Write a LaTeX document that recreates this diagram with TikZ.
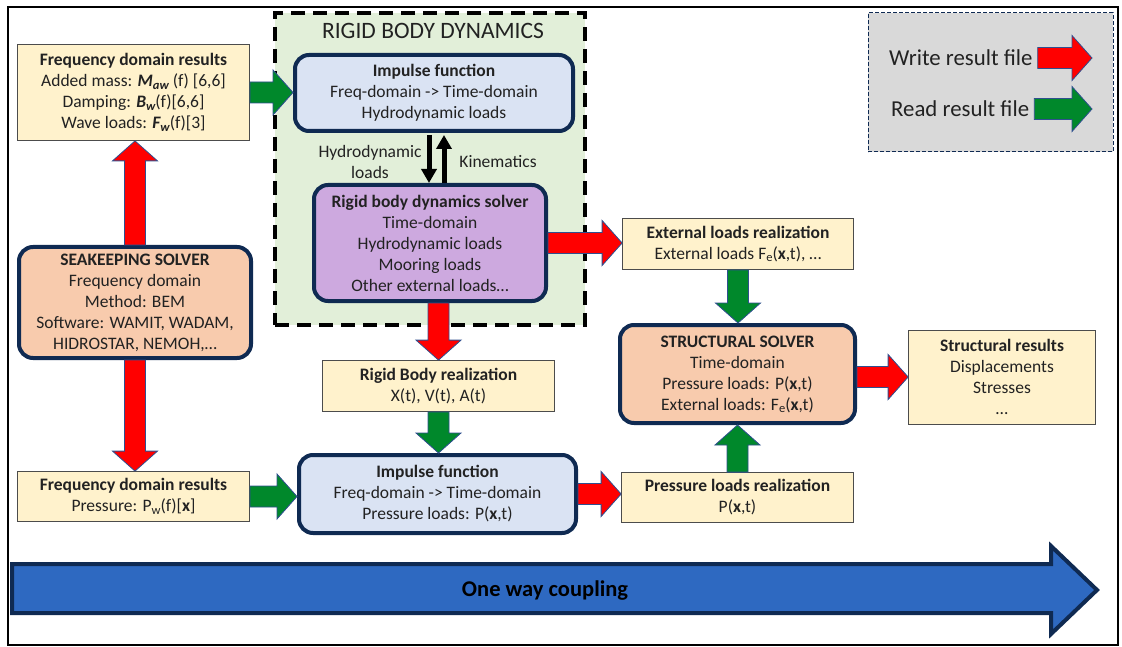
\documentclass[tikz,border=0pt]{standalone}
\usepackage{fontspec}
\setmainfont{Carlito}
\usetikzlibrary{arrows.meta,calc}
\definecolor{navy}{HTML}{0F2A52}
\definecolor{cream}{HTML}{FFF2CC}
\definecolor{peach}{HTML}{F8CBAD}
\definecolor{lblue}{HTML}{DAE3F3}
\definecolor{purp}{HTML}{CDA9DF}
\definecolor{lgreen}{HTML}{E2EFD9}
\definecolor{lgray}{HTML}{D9D9D9}
\definecolor{agreen}{HTML}{00882B}
\definecolor{ared}{HTML}{FF0000}
\definecolor{ablue}{HTML}{2E69C1}
\definecolor{abord}{HTML}{2F4F8F}
\definecolor{txt}{HTML}{222222}
\newcommand\fs{\fontsize{17.5}{21}\selectfont}
\newcommand\sbs[1]{\raisebox{-0.25ex}{\fontsize{12.5}{12}\selectfont #1}}
\newcommand\ArSw{10.5pt}
\newcommand\ArHw{22.5pt}
\newcommand\ArHl{20pt}
\newcommand\rArrow[3]{\draw[blockarrow,fill=#3] let \p1=(#1),\p2=(#2) in
  (\x1,\y1+\ArSw) -- (\x2-\ArHl,\y1+\ArSw) -- (\x2-\ArHl,\y1+\ArHw) -- (\x2,\y1) --
  (\x2-\ArHl,\y1-\ArHw) -- (\x2-\ArHl,\y1-\ArSw) -- (\x1,\y1-\ArSw) -- cycle;}
\newcommand\dArrow[3]{\draw[blockarrow,fill=#3] let \p1=(#1),\p2=(#2) in
  (\x1-\ArSw,\y1) -- (\x1-\ArSw,\y2+\ArHl) -- (\x1-\ArHw,\y2+\ArHl) -- (\x1,\y2) --
  (\x1+\ArHw,\y2+\ArHl) -- (\x1+\ArSw,\y2+\ArHl) -- (\x1+\ArSw,\y1) -- cycle;}
\newcommand\uArrow[3]{\draw[blockarrow,fill=#3] let \p1=(#1),\p2=(#2) in
  (\x1-\ArSw,\y1) -- (\x1-\ArSw,\y2-\ArHl) -- (\x1-\ArHw,\y2-\ArHl) -- (\x1,\y2) --
  (\x1+\ArHw,\y2-\ArHl) -- (\x1+\ArSw,\y2-\ArHl) -- (\x1+\ArSw,\y1) -- cycle;}
\tikzset{
  blockarrow/.style={draw=abord, line width=0.8pt, line join=miter},
  resbox/.style={draw=black!70, line width=0.8pt, fill=cream, align=center, inner sep=0pt, font=\fs, text=txt},
  solver/.style={draw=navy, line width=4pt, rounded corners=14pt, align=center, inner sep=0pt, font=\fs, text=txt},
  lbl/.style={align=center, inner sep=0pt, font=\fs, text=txt},
  blk/.style={line width=5pt, -{Triangle[width=15pt,length=14pt]}},
}
\begin{document}
\begin{tikzpicture}[x=1pt,y=-1pt]
\useasboundingbox (0,0) rectangle (1122,647);
\draw[line width=2pt] (8,7) rectangle (1118,645);

% rigid body dynamics container
\node[draw=black, fill=lgreen, line width=3.5pt, dash pattern=on 14pt off 8pt,
      minimum width=310pt, minimum height=312pt, inner sep=0pt] (rbd) at (430,169) {};
\node[lbl, font=\fontsize{23.5}{26}\selectfont] (rbdtitle) at (433,31) {RIGID BODY DYNAMICS};

% legend
\node[draw=navy, fill=lgray, line width=1pt, dash pattern=on 4pt off 2pt,
      minimum width=245pt, minimum height=139pt, inner sep=0pt] (legend) at (990.5,82.5) {};
\node[anchor=west, inner sep=5pt, text=txt, font=\fontsize{22.8}{24}\selectfont] (wtxt) at (884,58) {Write result file};
\node[anchor=west, inner sep=5pt, text=txt, font=\fontsize{22.8}{24}\selectfont] (rtxt) at (886,109) {Read result file};
\coordinate (wtip) at (1092,58);
\coordinate (rtip) at (1092,109);

% nodes
\node[resbox, minimum width=232pt, minimum height=96pt] (fdr1) at (133.5,92.5)
  {\textbf{Frequency domain results}\\
   Added mass: {\bfseries\itshape M\sbs{aw}} (f) [6,6]\\
   Damping: {\bfseries\itshape B\sbs{w}}(f)[6,6]\\
   Wave loads: {\bfseries\itshape F\sbs{w}}(f)[3]};
\node[solver, fill=lblue, minimum width=278pt, minimum height=76pt] (imp1) at (434,93)
  {\textbf{Impulse function}\\Freq-domain -> Time-domain\\Hydrodynamic loads};
\node[solver, fill=purp, minimum width=232pt, minimum height=116pt] (rbs) at (430,243)
  {\textbf{Rigid body dynamics solver}\\Time-domain\\Hydrodynamic loads\\Mooring loads\\Other external loads\dots};
\node[solver, fill=peach, minimum width=232pt, minimum height=111pt] (sk) at (135,302.5)
  {\textbf{SEAKEEPING SOLVER}\\Frequency domain\\Method: BEM\\Software: WAMIT, WADAM,\\HIDROSTAR, NEMOH,\dots};
\node[resbox, minimum width=232pt, minimum height=50pt] (fdr2) at (133.5,496.5)
  {\textbf{Frequency domain results}\\Pressure: P\sbs{w}(f)[\textbf{x}]};
\node[resbox, minimum width=232pt, minimum height=51pt] (rbr) at (438.5,386)
  {\textbf{Rigid Body realization}\\X(t), V(t), A(t)};
\node[solver, fill=lblue, minimum width=277pt, minimum height=78pt] (imp2) at (437.5,494)
  {\textbf{Impulse function}\\Freq-domain -> Time-domain\\Pressure loads: P(\textbf{x},t)};
\node[resbox, minimum width=232pt, minimum height=50pt] (plr) at (737.5,497.5)
  {\textbf{Pressure loads realization}\\P(\textbf{x},t)};
\node[resbox, minimum width=231pt, minimum height=51pt] (elr) at (738,244)
  {\textbf{External loads realization}\\External loads F\sbs{e}(\textbf{x},t), \dots};
\node[solver, fill=peach, minimum width=235pt, minimum height=98pt] (ss) at (737.5,374)
  {\textbf{STRUCTURAL SOLVER}\\Time-domain\\Pressure loads: P(\textbf{x},t)\\External loads: F\sbs{e}(\textbf{x},t)};
\node[resbox, minimum width=187pt, minimum height=94pt] (sr) at (1002,377)
  {\textbf{Structural results}\\Displacements\\Stresses\\\dots};

% black arrows between impulse function and solver
\draw[blk] ([xshift=-5pt,yshift=-2pt]imp1.south) -- ([xshift=-5pt]imp1.south |- rbs.north);
\draw[blk] ([xshift=10pt]imp1.south |- rbs.north) -- ([xshift=10pt,yshift=-2pt]imp1.south);
\node[lbl] (hlab) at (370,162) {Hydrodynamic\\loads};
\node[lbl] (klab) at (498,162) {Kinematics};

% block arrows
\rArrow{fdr1.east}{imp1.west}{agreen}
\uArrow{sk.north}{fdr1.south}{ared}
\dArrow{sk.south}{fdr2.north}{ared}
\rArrow{fdr2.east}{imp2.west}{agreen}
\rArrow{rbs.east}{elr.west}{ared}
\dArrow{rbs.south -| rbr.north}{rbr.north}{ared}
\dArrow{rbr.south}{imp2.north}{agreen}
\rArrow{imp2.east}{plr.west}{ared}
\uArrow{plr.north}{ss.south}{agreen}
\dArrow{elr.south}{ss.north}{agreen}
\rArrow{ss.east |- sr.west}{sr.west}{ared}
\rArrow{wtxt.east}{wtip}{ared}
\rArrow{rtxt.east}{rtip}{agreen}

% one way coupling arrow
\draw[draw=navy, fill=ablue, line width=4pt, line join=miter]
  (12,564) -- (1051,564) -- (1051,546) -- (1097,590) -- (1051,634) -- (1051,613) -- (12,613) -- cycle;
\node[lbl, text=black, font=\fontsize{22.5}{24}\selectfont\bfseries] (owc) at (545,591) {One way coupling};
\end{tikzpicture}
\end{document}
